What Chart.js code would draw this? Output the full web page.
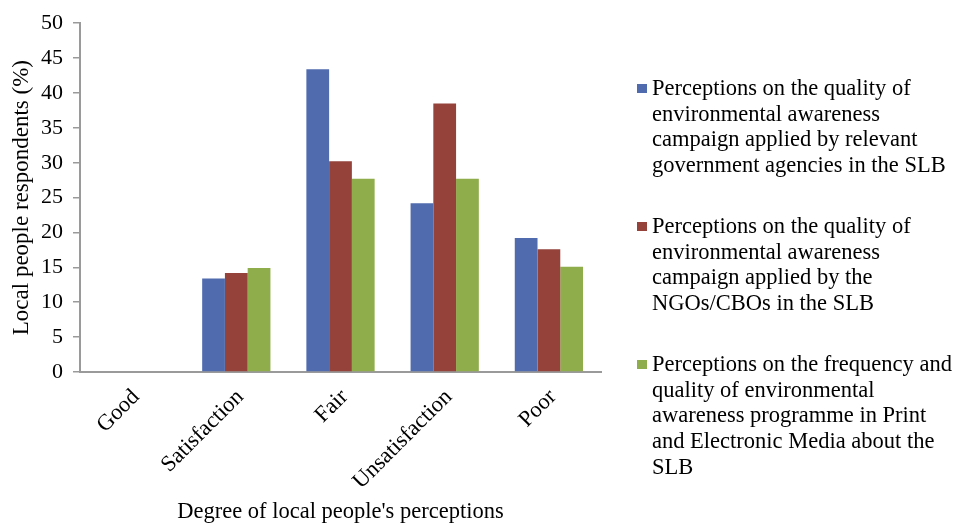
<!DOCTYPE html>
<html>
<head>
<meta charset="utf-8">
<script src="https://cdn.jsdelivr.net/npm/chart.js@4/dist/chart.umd.min.js"></script>
<style>
  html, body { margin: 0; padding: 0; background: #ffffff; }
  #wrap { position: relative; width: 956px; height: 528px; }
</style>
</head>
<body>
<div id="wrap"><canvas id="chart" width="956" height="528"></canvas></div>
<script>
// Degree of perception categories
const categories = ['Good', 'Satisfaction', 'Fair', 'Unsatisfaction', 'Poor'];

// Share of respondents (%) per perception source
const governmentAgencies = [0, 13.4, 43.4, 24.2, 19.2];
const ngosCbos = [0, 14.2, 30.2, 38.5, 17.6];
const printElectronicMedia = [0, 14.9, 27.7, 27.7, 15.1];

// Y axis range
const yMin = 0;
const yMax = 50;
const yStep = 5;

// Legend entries, one line per row
const governmentLines = [
  'Perceptions on the quality of',
  'environmental awareness',
  'campaign applied by relevant',
  'government agencies in the SLB'
];
const ngoLines = [
  'Perceptions on the quality of',
  'environmental awareness',
  'campaign applied by the',
  'NGOs/CBOs in the SLB'
];
const mediaLines = [
  'Perceptions on the frequency and',
  'quality of environmental',
  'awareness programme in Print',
  'and Electronic Media about the',
  'SLB'
];

const FONT = '"Liberation Serif", "Times New Roman", serif';
const AXIS_GREY = '#9a9a9a';

// Legend drawn beside the plot, with wrapped multi-line entries
const sideLegend = {
  id: 'sideLegend',
  afterDraw(chart) {
    const ctx = chart.ctx;
    const blockBaselines = [95, 233, 371];
    const lineHeight = 25.7;
    ctx.save();
    ctx.font = '22.5px ' + FONT;
    ctx.textBaseline = 'alphabetic';
    ctx.textAlign = 'left';
    chart.data.datasets.forEach((ds, i) => {
      const base = blockBaselines[i];
      ctx.fillStyle = ds.backgroundColor;
      ctx.fillRect(637, base - 11, 10, 9);
      ctx.fillStyle = '#000000';
      ds.legendLines.forEach((line, j) => {
        ctx.fillText(line, 652, base + j * lineHeight);
      });
    });
    ctx.restore();
  }
};

new Chart(document.getElementById('chart'), {
  type: 'bar',
  data: {
    labels: categories,
    datasets: [
      {
        label: governmentLines.join(' '),
        legendLines: governmentLines,
        data: governmentAgencies,
        backgroundColor: '#506BAE'
      },
      {
        label: ngoLines.join(' '),
        legendLines: ngoLines,
        data: ngosCbos,
        backgroundColor: '#95423A'
      },
      {
        label: mediaLines.join(' '),
        legendLines: mediaLines,
        data: printElectronicMedia,
        backgroundColor: '#8FAD4B'
      }
    ]
  },
  options: {
    responsive: false,
    animation: false,
    devicePixelRatio: 1,
    layout: { padding: { left: 0, right: 355, top: 20, bottom: 0 } },
    datasets: {
      bar: { categoryPercentage: 0.655, barPercentage: 1.0, borderWidth: 0 }
    },
    plugins: {
      legend: { display: false },
      tooltip: { enabled: false },
      title: { display: false }
    },
    scales: {
      x: {
        grid: { display: false, drawTicks: false, drawOnChartArea: false },
        border: { display: true, color: AXIS_GREY, width: 2 },
        ticks: {
          color: '#000000',
          font: { family: FONT, size: 22.5 },
          minRotation: 45,
          maxRotation: 45,
          padding: 12,
          labelOffset: 4
        },
        title: {
          display: true,
          text: "Degree of local people's perceptions",
          color: '#000000',
          font: { family: FONT, size: 22.5 },
          padding: { top: 0, bottom: 2 }
        },
        afterFit(scale) { scale.height = 156; }
      },
      y: {
        min: yMin,
        max: yMax,
        grid: {
          drawOnChartArea: false,
          drawTicks: true,
          tickLength: 7,
          color: AXIS_GREY,
          lineWidth: 1.5
        },
        border: { display: true, color: AXIS_GREY, width: 2 },
        ticks: {
          stepSize: yStep,
          color: '#000000',
          font: { family: FONT, size: 22 },
          padding: 10
        },
        title: {
          display: true,
          text: 'Local people respondents (%)',
          color: '#000000',
          font: { family: FONT, size: 23 },
          padding: { top: 8, bottom: 0 }
        },
        afterFit(scale) { scale.width = 80; }
      }
    }
  },
  plugins: [sideLegend]
});
</script>
</body>
</html>
